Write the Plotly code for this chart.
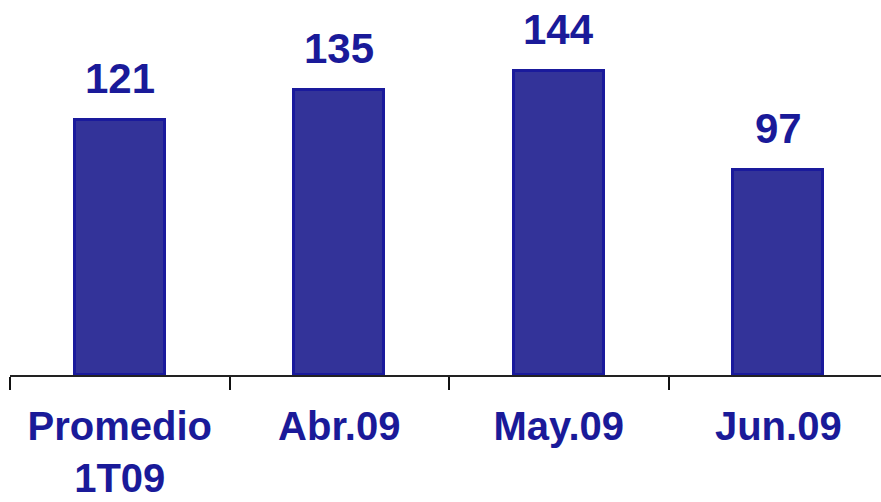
import plotly.graph_objects as go

# Monthly figures vs. quarterly average
categories = ["Promedio<br>1T09", "Abr.09", "May.09", "Jun.09"]
values = [121, 135, 144, 97]

BAR_FILL = "#333399"
BAR_EDGE = "#1a1a9c"
TEXT_COLOR = "#1a1a99"
FONT = "Liberation Sans, Arial, sans-serif"

fig = go.Figure()
fig.add_trace(go.Bar(
    x=categories,
    y=values,
    width=0.41,
    marker=dict(color=BAR_FILL, line=dict(color=BAR_EDGE, width=3)),
    hoverinfo="skip",
))

# value labels above each bar
for cat, val in zip(categories, values):
    fig.add_annotation(
        x=cat, y=val, text=f"<b>{val}</b>",
        showarrow=False, yanchor="bottom", yshift=16,
        font=dict(family=FONT, size=42, color=TEXT_COLOR),
    )

fig.update_layout(
    width=881, height=502,
    margin=dict(l=10, r=0, t=0, b=127),
    paper_bgcolor="white", plot_bgcolor="white",
    showlegend=False,
    bargap=0,
)
fig.update_xaxes(
    type="category",
    range=[-0.5, 3.468],
    automargin=False,
    showline=True, linecolor="#222222", linewidth=1.5,
    ticks="outside", ticklen=13, tickwidth=1.5, tickcolor="#111111",
    tickson="boundaries",
    tickfont=dict(family=FONT, size=40, color=TEXT_COLOR),
    tickvals=categories,
    ticktext=[f"<b>{c}</b>" for c in categories],
    ticklabelstandoff=15,
    showgrid=False, zeroline=False,
)
fig.update_yaxes(
    range=[0, 177.7],
    automargin=False,
    visible=False, showgrid=False, zeroline=False,
)

fig.write_html("out.html")
